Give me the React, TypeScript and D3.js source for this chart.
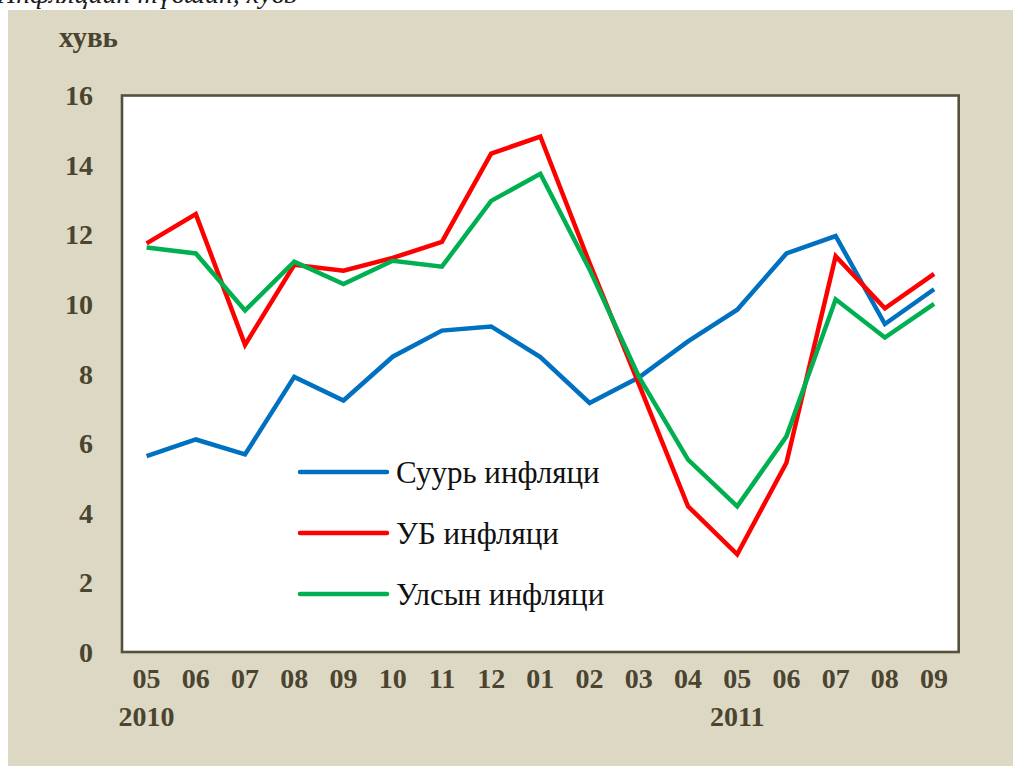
import React, { useEffect, useRef } from 'react';
import * as d3 from 'd3';

const months = ['05', '06', '07', '08', '09', '10', '11', '12', '01', '02', '03', '04', '05', '06', '07', '08', '09'];
const yearLabels = [{ idx: 0, text: '2010' }, { idx: 12, text: '2011' }];
const yTicks = [0, 2, 4, 6, 8, 10, 12, 14, 16];

const core = [5.63, 6.11, 5.68, 7.91, 7.23, 8.49, 9.24, 9.36, 8.48, 7.16, 7.89, 8.93, 9.84, 11.46, 11.96, 9.43, 10.43];
const ub = [11.75, 12.59, 8.83, 11.13, 10.96, 11.33, 11.79, 14.33, 14.82, 11.18, 7.71, 4.19, 2.81, 5.44, 11.38, 9.88, 10.87];
const national = [11.63, 11.46, 9.82, 11.22, 10.58, 11.25, 11.08, 12.97, 13.75, 11.0, 7.92, 5.53, 4.19, 6.2, 10.14, 9.04, 10.01];

const series = [
  { name: 'Суурь инфляци', values: core, color: '#0070c0' },
  { name: 'УБ инфляци', values: ub, color: '#ff0000' },
  { name: 'Улсын инфляци', values: national, color: '#00b050' },
];

export default function App() {
  const svgRef = useRef<SVGSVGElement>(null);

  useEffect(() => {
    const svg = d3.select(svgRef.current);
    svg.selectAll('*').remove();

    const W = 1013, H = 766;
    const plot = { left: 122, top: 95.5, right: 958.7, bottom: 652 };
    const tickColor = '#4a4430';
    const font = '"Liberation Serif", "Times New Roman", serif';

    // фон
    svg.append('rect').attr('x', 0).attr('y', 0).attr('width', W).attr('height', H).attr('fill', '#ffffff');
    svg.append('text').attr('x', -4).attr('y', 3).text('Инфляцийн түвшин, хувь')
      .style('font-family', font).style('font-style', 'italic').style('font-size', '28px').attr('fill', '#1a1a1a');
    svg.append('rect').attr('x', 8).attr('y', 10).attr('width', W - 8).attr('height', H - 10).attr('fill', '#ddd8c3');

    const x = d3.scalePoint<string>().domain(months.map((_, i) => String(i))).range([plot.left, plot.right]).padding(0.5);
    const y = d3.scaleLinear().domain([0, 16]).range([plot.bottom, plot.top]);

    svg.append('rect')
      .attr('x', plot.left).attr('y', plot.top)
      .attr('width', plot.right - plot.left).attr('height', plot.bottom - plot.top)
      .attr('fill', '#ffffff').attr('stroke', '#57513c').attr('stroke-width', 2.6);

    // ось Y
    svg.append('g').selectAll('text').data(yTicks).enter().append('text')
      .attr('x', 93).attr('y', d => y(d)).attr('dy', '0.35em').attr('text-anchor', 'end')
      .text(d => d).style('font-family', font).style('font-weight', 'bold').style('font-size', '28px').attr('fill', tickColor);

    svg.append('text').attr('x', 59).attr('y', 47).text('хувь')
      .style('font-family', font).style('font-weight', 'bold').style('font-size', '29px').attr('fill', tickColor);

    // ось X
    svg.append('g').selectAll('text').data(months).enter().append('text')
      .attr('x', (_, i) => x(String(i))!).attr('y', 688).attr('text-anchor', 'middle')
      .text(d => d).style('font-family', font).style('font-weight', 'bold').style('font-size', '28px').attr('fill', tickColor);

    svg.append('g').selectAll('text').data(yearLabels).enter().append('text')
      .attr('x', d => x(String(d.idx))!).attr('y', 726).attr('text-anchor', 'middle')
      .text(d => d.text).style('font-family', font).style('font-weight', 'bold').style('font-size', '28px').attr('fill', tickColor);

    // линии
    const line = d3.line<number>().x((_, i) => x(String(i))!).y(d => y(d));
    series.forEach(s => {
      svg.append('path').datum(s.values).attr('d', line)
        .attr('fill', 'none').attr('stroke', s.color).attr('stroke-width', 4.5).attr('stroke-linejoin', 'miter');
    });

    // легенда
    const leg = svg.append('g');
    series.forEach((s, i) => {
      const ly = 472 + i * 61;
      leg.append('line').attr('x1', 300).attr('x2', 387).attr('y1', ly).attr('y2', ly)
        .attr('stroke', s.color).attr('stroke-width', 4.5).attr('stroke-linecap', 'round');
      leg.append('text').attr('x', 396).attr('y', ly + 11).text(s.name)
        .style('font-family', font).style('font-size', '31px').attr('fill', '#111111');
    });
  }, []);

  return (
    <svg ref={svgRef} width={1013} height={766} style={{ position: 'absolute', left: 0, top: 0 }} />
  );
}
